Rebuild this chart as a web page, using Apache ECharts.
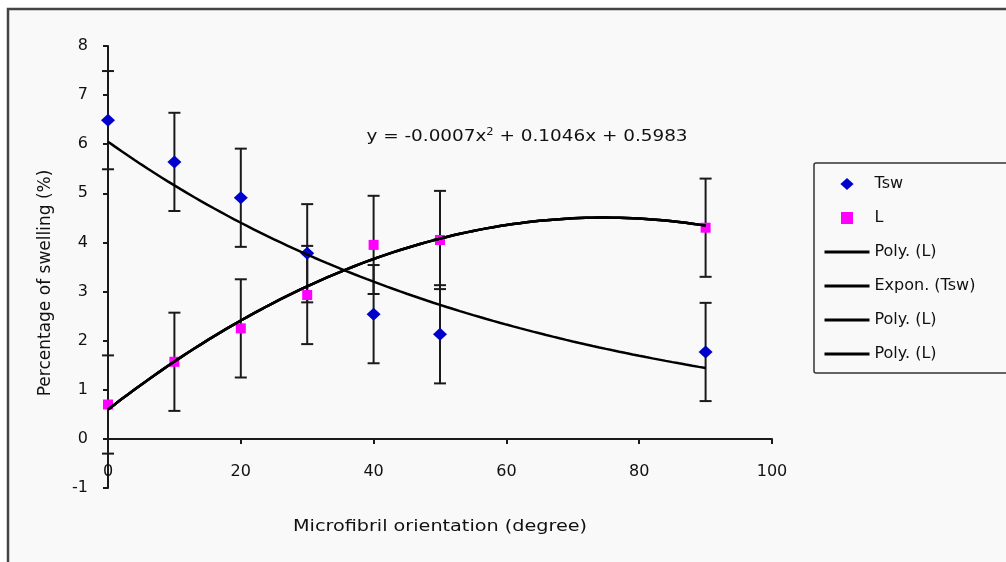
<!DOCTYPE html>
<html>
<head>
<meta charset="utf-8">
<title>Swelling vs microfibril orientation</title>
<script src="https://cdn.jsdelivr.net/npm/echarts@6/dist/echarts.min.js"></script>
<style>
  html, body { margin: 0; padding: 0; background: #ffffff; }
  #chart { width: 1006px; height: 562px; }
</style>
</head>
<body>
<div id="chart"></div>
<script>
// Microfibril orientation (degree) at which samples were measured
const orientation = [0, 10, 20, 30, 40, 50, 90];
// Tangential swelling (Tsw), %
const tswValues = [6.49, 5.64, 4.91, 3.78, 2.54, 2.13, 1.77];
const tswErrors = [1.0, 1.0, 1.0, 1.0, 1.0, 1.0, 1.0];
// Longitudinal swelling (L), %
const lValues = [0.70, 1.57, 2.25, 2.93, 3.95, 4.05, 4.30];
const lErrors = [1.0, 1.0, 1.0, 1.0, 1.0, 1.0, 1.0];
// Second-order polynomial trend for L: a*x^2 + b*x + c
const polyCoef = [-0.0007, 0.1046, 0.5983];
// Legend entries (text after '#' only keeps duplicate entries distinct)
const legendNames = ['Tsw', 'L', 'Poly. (L)', 'Expon. (Tsw)', 'Poly. (L)#2', 'Poly. (L)#3'];

const FONT = 'DejaVu Sans';
const INK = '#111111';
const AXIS = '#1a1a1a';

// Plot area and value range of the y axis
const GRID = { left: 108, right: 234, top: 46, bottom: 74 };
const Y_MIN = -1, Y_MAX = 8;
const plotHeight = 562 - GRID.top - GRID.bottom;
// the x axis crosses at y = 0
const xAxisShift = -plotHeight * (0 - Y_MIN) / (Y_MAX - Y_MIN);

// Trend curves are sampled over the measured orientation range
const xStart = orientation[0];
const xEnd = orientation[orientation.length - 1];

function polyCurve(coef) {
  const pts = [];
  for (let x = xStart; x <= xEnd; x += 1) {
    pts.push([x, coef[0] * x * x + coef[1] * x + coef[2]]);
  }
  return pts;
}

// Exponential least-squares fit (linear regression on ln y)
function exponCurve(xs, ys) {
  const n = xs.length;
  const ly = ys.map(Math.log);
  const mx = xs.reduce((s, v) => s + v, 0) / n;
  const my = ly.reduce((s, v) => s + v, 0) / n;
  let sxy = 0, sxx = 0;
  for (let i = 0; i < n; i++) {
    sxy += (xs[i] - mx) * (ly[i] - my);
    sxx += (xs[i] - mx) * (xs[i] - mx);
  }
  const b = sxy / sxx;
  const a = Math.exp(my - b * mx);
  const pts = [];
  for (let x = xStart; x <= xEnd; x += 1) pts.push([x, a * Math.exp(b * x)]);
  return pts;
}

function withErrors(values, errors) {
  return orientation.map((x, i) => [x, values[i], errors[i]]);
}

function fmtNum(v) {
  return Math.abs(v).toFixed(4);
}
function signed(v) {
  return (v < 0 ? ' - ' : ' + ') + fmtNum(v);
}
const eqHead = 'y = ' + (polyCoef[0] < 0 ? '-' : '') + fmtNum(polyCoef[0]) + 'x';
const eqTail = signed(polyCoef[1]) + 'x' + signed(polyCoef[2]);

// Vertical error bar with caps
function renderErrorBar(params, api) {
  const x = api.value(0), y = api.value(1), e = api.value(2);
  const top = api.coord([x, y + e]);
  const bot = api.coord([x, y - e]);
  const half = 6;
  const style = { stroke: AXIS, lineWidth: 2, fill: null };
  return {
    type: 'group',
    children: [
      { type: 'line', shape: { x1: top[0], y1: top[1], x2: bot[0], y2: bot[1] }, style },
      { type: 'line', shape: { x1: top[0] - half, y1: top[1], x2: top[0] + half, y2: top[1] }, style },
      { type: 'line', shape: { x1: bot[0] - half, y1: bot[1], x2: bot[0] + half, y2: bot[1] }, style }
    ]
  };
}

const polyData = polyCurve(polyCoef);
const expData = exponCurve(orientation, tswValues);

const trendLine = (name, data) => ({
  name, type: 'line', data, symbol: 'none', smooth: false, z: 5,
  lineStyle: { color: '#000000', width: 2.5 },
  itemStyle: { color: '#000000' }
});

// Legend keys: markers for the measured series, plain lines for the trends
const DIAMOND_ICON = 'path://M0,-1L1.1,0L0,1L-1.1,0Z';
const SQUARE_ICON = 'path://M0,0L1,0L1,1L0,1Z';
const legendData = legendNames.map((name) => {
  if (name === 'Tsw') return { name, icon: DIAMOND_ICON };
  if (name === 'L') return { name, icon: SQUARE_ICON };
  return { name, itemStyle: { opacity: 0 }, lineStyle: { width: 3, color: '#000000' } };
});

const chart = echarts.init(document.getElementById('chart'), null, { renderer: 'canvas' });

chart.setOption({
  animation: false,
  backgroundColor: 'transparent',
  textStyle: { fontFamily: FONT },
  grid: Object.assign({ containLabel: false }, GRID),
  xAxis: {
    type: 'value', min: 0, max: 100, interval: 20,
    offset: xAxisShift,
    axisLine: { onZero: false, lineStyle: { color: AXIS, width: 2 } },
    axisTick: { show: true, inside: false, length: 5, lineStyle: { color: AXIS, width: 2 } },
    axisLabel: { margin: 25, fontFamily: FONT, fontSize: 16, color: INK },
    splitLine: { show: false }
  },
  yAxis: {
    type: 'value', min: Y_MIN, max: Y_MAX, interval: 1,
    axisLine: { show: true, onZero: true, lineStyle: { color: AXIS, width: 2 } },
    axisTick: { show: true, inside: false, length: 5, lineStyle: { color: AXIS, width: 2 } },
    axisLabel: { margin: 20, fontFamily: FONT, fontSize: 16, color: INK },
    splitLine: { show: false }
  },
  legend: {
    orient: 'vertical',
    left: 814, top: 163,
    padding: [13, 300, 11, 9],
    itemWidth: 45, itemHeight: 12, itemGap: 18,
    symbolKeepAspect: true,
    backgroundColor: '#f9f9f9',
    borderColor: '#333333', borderWidth: 1.5, borderRadius: 2,
    textStyle: { fontFamily: FONT, fontSize: 16, color: INK },
    formatter: (name) => name.split('#')[0],
    data: legendData
  },
  graphic: [
    {
      type: 'rect', z: -100, silent: true,
      shape: { x: 8, y: 9, width: 1200, height: 700 },
      style: { fill: '#f9f9f9', stroke: '#444444', lineWidth: 2.5 }
    },
    {
      type: 'text', x: 440, y: 527, scaleX: 1.2, z: 10,
      style: {
        text: 'Microfibril orientation (degree)',
        fontFamily: FONT, fontSize: 16, fill: INK,
        align: 'center', verticalAlign: 'middle'
      }
    },
    {
      type: 'text', x: 46, y: 283, rotation: Math.PI / 2, z: 10,
      style: {
        text: 'Percentage of swelling (%)',
        fontFamily: FONT, fontSize: 17, fill: INK,
        align: 'center', verticalAlign: 'middle'
      }
    },
    {
      type: 'text', x: 527, y: 137, scaleX: 1.15, z: 10,
      style: {
        text: '{m|' + eqHead + '}{s|2}{m|' + eqTail + '}',
        fill: INK, align: 'center', verticalAlign: 'middle',
        rich: {
          m: { fontFamily: FONT, fontSize: 16, lineHeight: 20, fill: INK },
          s: { fontFamily: FONT, fontSize: 10, lineHeight: 10, verticalAlign: 'top', fill: INK }
        }
      }
    }
  ],
  series: [
    {
      name: 'Tsw', type: 'scatter', z: 4,
      data: orientation.map((x, i) => [x, tswValues[i]]),
      symbol: 'diamond', symbolSize: [14, 13],
      itemStyle: { color: '#0000cc', opacity: 1 }
    },
    {
      name: 'L', type: 'scatter', z: 4,
      data: orientation.map((x, i) => [x, lValues[i]]),
      symbol: 'rect', symbolSize: 10,
      itemStyle: { color: '#ff00ff', opacity: 1 }
    },
    trendLine('Poly. (L)', polyData),
    trendLine('Expon. (Tsw)', expData),
    trendLine('Poly. (L)#2', polyData),
    trendLine('Poly. (L)#3', polyData),
    {
      name: 'Tsw error', type: 'custom', z: 3,
      renderItem: renderErrorBar,
      encode: { x: 0, y: 1 },
      data: withErrors(tswValues, tswErrors)
    },
    {
      name: 'L error', type: 'custom', z: 3,
      renderItem: renderErrorBar,
      encode: { x: 0, y: 1 },
      data: withErrors(lValues, lErrors)
    }
  ]
});
</script>
</body>
</html>
